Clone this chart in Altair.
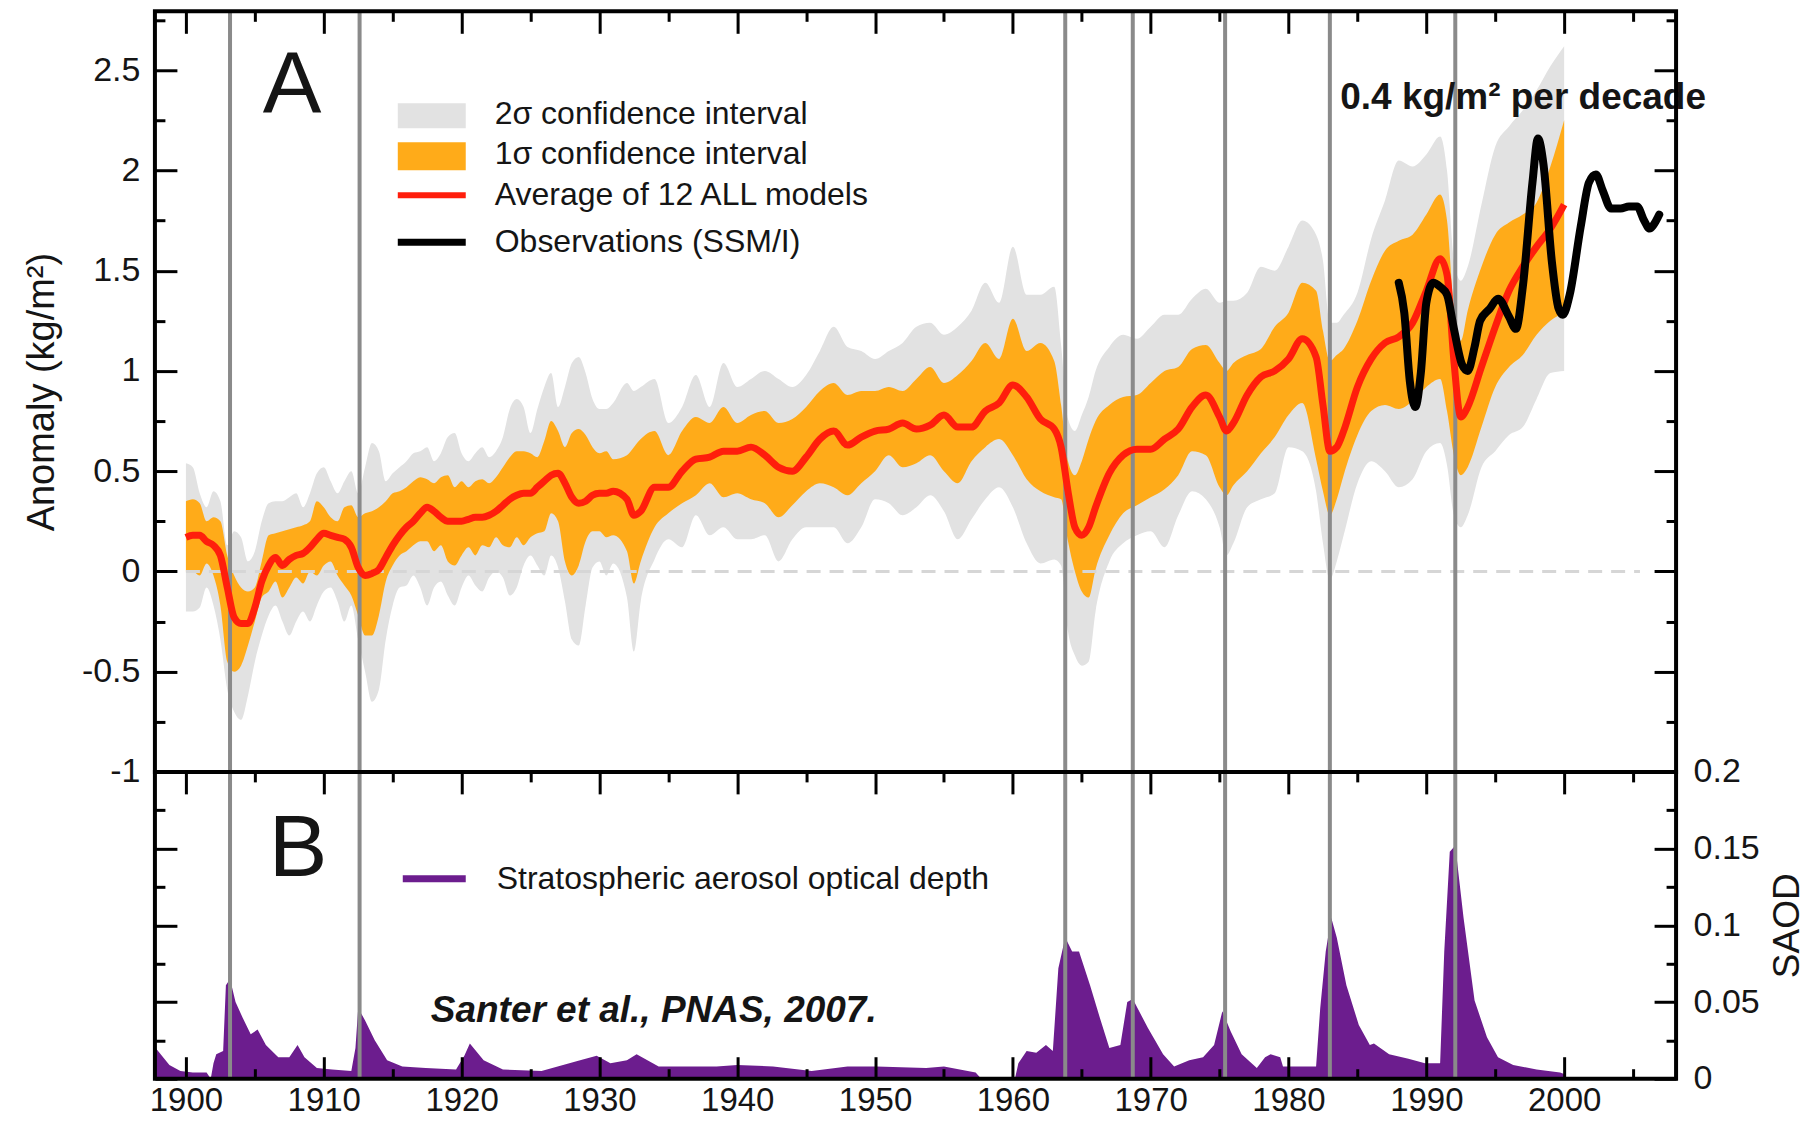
import altair as alt
import pandas as pd

# ---------------------------------------------------------------- data
years = [1900, 1900.5, 1901, 1901.5, 1902, 1902.5, 1903, 1903.5, 1904, 1904.5,
         1905, 1905.5, 1906, 1906.5, 1907, 1907.5, 1908, 1908.5, 1909, 1909.5,
         1910, 1910.5, 1911, 1911.5, 1912, 1912.5, 1913, 1913.5, 1914, 1914.5,
         1915, 1915.5, 1916, 1916.5, 1917, 1917.5, 1918, 1918.5, 1919, 1919.5,
         1920, 1920.5, 1921, 1921.5, 1922, 1922.5, 1923, 1923.5, 1924, 1924.5,
         1925, 1925.5, 1926, 1926.5, 1927, 1927.5, 1928, 1928.5, 1929, 1929.5,
         1930, 1930.5,
         1931, 1932, 1932.5, 1933, 1934, 1935, 1936, 1937, 1938, 1939,
         1940, 1941, 1942, 1943, 1944, 1945, 1946, 1947, 1948, 1949,
         1950, 1951, 1952, 1953, 1954, 1955, 1956, 1957, 1958, 1959,
         1960, 1961, 1962, 1963, 1963.5, 1964, 1964.5, 1965, 1965.5, 1966, 1967, 1968, 1969,
         1970, 1971, 1972, 1973, 1974, 1975, 1975.5, 1976, 1977, 1978, 1979,
         1980, 1981, 1982, 1982.5, 1983, 1983.5, 1984, 1985, 1986, 1987, 1988, 1989,
         1990, 1991, 1991.5, 1992, 1992.5, 1993, 1994, 1995, 1996, 1997, 1998, 1999, 2000]

model_mean = [0.17, 0.18, 0.18, 0.15, 0.13, 0.08, -0.08, -0.23, -0.26, -0.26,
              -0.18, -0.05, 0.03, 0.07, 0.03, 0.06, 0.08, 0.09, 0.12, 0.16,
              0.19, 0.18, 0.17, 0.16, 0.12, 0.02, -0.02, -0.01, 0.01, 0.07,
              0.13, 0.18, 0.22, 0.25, 0.29, 0.32, 0.30, 0.27, 0.25, 0.25,
              0.25, 0.26, 0.27, 0.27, 0.28, 0.30, 0.33, 0.36, 0.38, 0.39,
              0.39, 0.42, 0.45, 0.48, 0.49, 0.44, 0.37, 0.34, 0.35, 0.38,
              0.39, 0.39,
              0.40, 0.36, 0.28, 0.30, 0.42, 0.42, 0.50, 0.56, 0.57, 0.60,
              0.60, 0.62, 0.58, 0.52, 0.50, 0.57, 0.66, 0.70, 0.63, 0.67,
              0.70, 0.71, 0.74, 0.71, 0.73, 0.78, 0.72, 0.72, 0.80, 0.84,
              0.93, 0.87, 0.76, 0.71, 0.62, 0.40, 0.22, 0.18, 0.22, 0.32, 0.49, 0.58, 0.61,
              0.61, 0.66, 0.71, 0.82, 0.88, 0.77, 0.70, 0.74, 0.88, 0.97, 1.00,
              1.06, 1.16, 1.07, 0.83, 0.60, 0.62, 0.70, 0.92, 1.06, 1.14, 1.17, 1.24,
              1.40, 1.56, 1.48, 1.05, 0.77, 0.82, 1.02, 1.22, 1.40, 1.52, 1.62, 1.71, 1.83]

sigma1_hi = [0.35, 0.36, 0.34, 0.25, 0.27, 0.25, 0.08, -0.02, -0.08, -0.10,
             -0.08, 0.05, 0.18, 0.19, 0.20, 0.21, 0.22, 0.23, 0.25, 0.35,
             0.32, 0.27, 0.25, 0.32, 0.33, 0.27, 0.29, 0.30, 0.32, 0.35,
             0.39, 0.40, 0.42, 0.45, 0.47, 0.46, 0.44, 0.47, 0.48, 0.42,
             0.45, 0.42, 0.45, 0.46, 0.44, 0.47, 0.52, 0.57, 0.60, 0.60,
             0.59, 0.57, 0.65, 0.75, 0.70, 0.62, 0.69, 0.71, 0.68, 0.62,
             0.59, 0.60,
             0.56, 0.58, 0.62, 0.66, 0.70, 0.58, 0.70, 0.77, 0.74, 0.82,
             0.74, 0.78, 0.80, 0.74, 0.76, 0.82, 0.90, 0.94, 0.88, 0.90,
             0.90, 0.92, 0.90, 0.96, 1.02, 0.94, 0.98, 1.05, 1.14, 1.06,
             1.26, 1.10, 1.14, 1.05, 0.83, 0.55, 0.48, 0.55, 0.66, 0.75, 0.83, 0.87, 0.88,
             0.94, 1.00, 1.02, 1.11, 1.13, 1.04, 1.00, 1.04, 1.08, 1.11, 1.22,
             1.29, 1.44, 1.40, 1.20, 1.05, 1.08, 1.11, 1.25, 1.45, 1.60, 1.65, 1.68,
             1.78, 1.88, 1.75, 1.30, 1.15, 1.30, 1.52, 1.68, 1.74, 1.78, 1.84, 2.02, 2.25]

sigma1_lo = [0.00, 0.00, -0.02, 0.04, -0.02, -0.17, -0.45, -0.50, -0.47, -0.37,
             -0.25, -0.13, -0.10, -0.05, -0.13, -0.08, -0.03, -0.06, 0.00, -0.02,
             0.03, 0.05, -0.02, -0.07, -0.12, -0.22, -0.32, -0.32, -0.22, -0.05,
             0.03, 0.08, 0.10, 0.13, 0.15, 0.15, 0.10, 0.13, 0.05, 0.03,
             0.08, 0.12, 0.08, 0.13, 0.12, 0.17, 0.13, 0.12, 0.17, 0.13,
             0.17, 0.19, 0.20, 0.29, 0.25, 0.05, -0.02, 0.03, 0.15, 0.20,
             0.20, 0.17,
             0.18, 0.10, -0.06, 0.05, 0.22, 0.29, 0.34, 0.38, 0.44, 0.37,
             0.39, 0.36, 0.34, 0.27, 0.33, 0.40, 0.44, 0.42, 0.38, 0.44,
             0.50, 0.58, 0.52, 0.54, 0.58, 0.50, 0.44, 0.55, 0.62, 0.66,
             0.58, 0.46, 0.40, 0.37, 0.36, 0.15, 0.00, -0.10, -0.13, 0.01, 0.18, 0.29, 0.33,
             0.37, 0.41, 0.48, 0.60, 0.58, 0.42, 0.38, 0.43, 0.50, 0.59, 0.67,
             0.78, 0.84, 0.56, 0.40, 0.28, 0.36, 0.48, 0.68, 0.80, 0.83, 0.81, 0.85,
             0.92, 0.96, 0.80, 0.58, 0.48, 0.52, 0.72, 0.92, 1.02, 1.08, 1.18, 1.25, 1.29]

sigma2_hi = [0.54, 0.52, 0.39, 0.32, 0.40, 0.35, 0.13, 0.20, 0.17, 0.05,
             0.10, 0.25, 0.34, 0.35, 0.35, 0.37, 0.39, 0.32, 0.39, 0.49,
             0.52, 0.45, 0.39, 0.45, 0.50, 0.39, 0.52, 0.64, 0.60, 0.45,
             0.49, 0.52, 0.55, 0.59, 0.60, 0.62, 0.55, 0.59, 0.67, 0.69,
             0.59, 0.55, 0.59, 0.62, 0.57, 0.60, 0.67, 0.81, 0.86, 0.82,
             0.69, 0.81, 0.92, 0.99, 0.82, 0.92, 1.04, 1.07, 0.99, 0.86,
             0.81, 0.81,
             0.84, 0.94, 0.90, 0.92, 0.96, 0.74, 0.82, 0.98, 0.82, 1.04,
             0.92, 0.96, 1.00, 0.96, 0.92, 0.98, 1.10, 1.22, 1.12, 1.10,
             1.06, 1.10, 1.14, 1.22, 1.24, 1.18, 1.22, 1.30, 1.44, 1.34,
             1.62, 1.38, 1.38, 1.42, 1.13, 0.76, 0.70, 0.78, 0.87, 1.00, 1.12, 1.18, 1.16,
             1.22, 1.28, 1.28, 1.36, 1.41, 1.34, 1.35, 1.35, 1.39, 1.52, 1.50,
             1.62, 1.75, 1.68, 1.55, 1.24, 1.24, 1.28, 1.39, 1.66, 1.85, 2.05, 2.02,
             2.08, 2.17, 2.00, 1.55, 1.45, 1.52, 1.83, 2.12, 2.22, 2.30, 2.40, 2.52, 2.62]

sigma2_lo = [-0.20, -0.20, -0.18, -0.08, -0.17, -0.34, -0.59, -0.70, -0.74, -0.62,
             -0.45, -0.32, -0.22, -0.17, -0.25, -0.32, -0.25, -0.20, -0.25, -0.17,
             -0.10, -0.08, -0.15, -0.25, -0.17, -0.34, -0.50, -0.65, -0.59, -0.34,
             -0.17, -0.08, -0.07, -0.02, -0.08, -0.17, -0.08, -0.05, -0.12, -0.17,
             -0.08, -0.02, -0.07, -0.10, -0.03, 0.00, -0.03, -0.12, -0.08, 0.03,
             0.08, 0.03, -0.02, 0.08, 0.02, -0.15, -0.34, -0.37, -0.17, 0.02,
             0.05, -0.02,
             0.04, -0.13, -0.40, -0.15, 0.06, 0.16, 0.12, 0.28, 0.18, 0.22,
             0.16, 0.16, 0.18, 0.05, 0.16, 0.22, 0.22, 0.22, 0.14, 0.22,
             0.36, 0.34, 0.28, 0.32, 0.38, 0.30, 0.16, 0.26, 0.36, 0.42,
             0.32, 0.14, 0.04, 0.06, 0.03, -0.30, -0.42, -0.47, -0.45, -0.20, 0.05, 0.14, 0.18,
             0.20, 0.12, 0.28, 0.40, 0.36, 0.22, 0.08, 0.14, 0.32, 0.36, 0.39,
             0.62, 0.60, 0.40, 0.14, -0.04, 0.05, 0.18, 0.44, 0.55, 0.50, 0.42, 0.46,
             0.60, 0.64, 0.53, 0.28, 0.22, 0.28, 0.52, 0.60, 0.68, 0.72, 0.86, 0.99, 1.00]

obs_years = [1988.0, 1988.4, 1988.8, 1989.2, 1989.6, 1990.0, 1990.5, 1991.0, 1991.5, 1992.0,
             1992.6, 1993.0, 1993.5, 1993.9, 1994.6, 1995.2, 1996.0, 1996.5, 1997.0, 1997.7,
             1998.1, 1998.5, 1999.1, 1999.6, 1999.9, 2000.4, 2001.2, 2001.8, 2002.3, 2002.8,
             2003.4, 2004.1, 2004.7, 2005.3, 2005.8, 2006.2, 2006.5, 2006.9]
obs_values = [1.44, 1.29, 0.95, 0.82, 0.99, 1.34, 1.44, 1.42, 1.38, 1.21,
              1.03, 1.00, 1.12, 1.25, 1.31, 1.36, 1.27, 1.21, 1.42, 1.94,
              2.16, 2.03, 1.55, 1.31, 1.28, 1.38, 1.72, 1.94, 1.98, 1.90,
              1.81, 1.81, 1.82, 1.82, 1.75, 1.71, 1.73, 1.78]

saod_years = [1897.8, 1898.8, 1899.6, 1900.5, 1901.5, 1901.8, 1902.0, 1902.2, 1902.7, 1902.9,
              1903.2, 1903.6, 1904.1, 1904.7, 1905.2, 1905.8, 1906.7, 1907.5, 1908.1, 1908.6,
              1909.5, 1910.6, 1912.0, 1912.3, 1912.5, 1913.0, 1913.7, 1914.6, 1915.7, 1917.4,
              1919.6, 1920.2, 1920.6, 1921.6, 1923.0, 1925.8, 1928.6, 1929.8, 1930.8, 1932.0,
              1932.7, 1934.3, 1938.5, 1940.0, 1942.6, 1945.4, 1948.0, 1950.1, 1953.7, 1955.0,
              1957.3, 1957.9, 1960.1, 1960.4, 1961.0, 1961.7, 1962.4, 1962.9, 1963.3, 1963.8,
              1964.3, 1964.8, 1965.6, 1966.3, 1967.0, 1967.8, 1968.3, 1968.7, 1969.8, 1970.9,
              1971.7, 1972.8, 1973.8, 1974.6, 1975.2, 1975.8, 1976.6, 1977.7, 1978.3, 1978.7,
              1979.4, 1979.6, 1982.0, 1982.3, 1982.7, 1983.1, 1983.5, 1984.2, 1985.1, 1985.9,
              1986.2, 1987.3, 1988.7, 1989.9, 1991.0, 1991.3, 1991.7, 1992.1, 1992.7, 1993.5,
              1994.4, 1995.2, 1996.3, 1998.0, 1999.7, 2000.0]
saod_values = [0.020, 0.009, 0.005, 0.004, 0.004, 0.000, 0.010, 0.016, 0.018, 0.061,
               0.065, 0.050, 0.040, 0.029, 0.032, 0.022, 0.014, 0.014, 0.022, 0.014,
               0.007, 0.006, 0.005, 0.020, 0.046, 0.038, 0.025, 0.012, 0.008, 0.007,
               0.006, 0.015, 0.023, 0.012, 0.006, 0.005, 0.012, 0.015, 0.010, 0.012,
               0.016, 0.008, 0.008, 0.009, 0.008, 0.005, 0.008, 0.008, 0.007, 0.008,
               0.004, -0.002, -0.002, 0.010, 0.018, 0.017, 0.022, 0.018, 0.072, 0.092,
               0.083, 0.083, 0.061, 0.040, 0.020, 0.022, 0.050, 0.052, 0.033, 0.016,
               0.008, 0.012, 0.014, 0.022, 0.044, 0.031, 0.016, 0.007, 0.014, 0.016,
               0.014, 0.008, 0.008, 0.046, 0.083, 0.105, 0.092, 0.061, 0.035, 0.022,
               0.023, 0.016, 0.013, 0.010, 0.010, 0.083, 0.148, 0.152, 0.105, 0.051,
               0.027, 0.014, 0.009, 0.006, 0.004, 0.003]

eruption_years = [1903.2, 1912.6, 1963.8, 1968.7, 1975.4, 1983.0, 1992.1]
zero_line_span = [1900.0, 2005.5]

x_major = [1900, 1910, 1920, 1930, 1940, 1950, 1960, 1970, 1980, 1990, 2000]
x_minor = [1905, 1915, 1925, 1935, 1945, 1955, 1965, 1975, 1985, 1995, 2005]
ya_major = [-1, -0.5, 0, 0.5, 1, 1.5, 2, 2.5]
ya_minor = [-0.75, -0.25, 0.25, 0.75, 1.25, 1.75, 2.25, 2.75]
yb_major = [0, 0.05, 0.1, 0.15, 0.2]
yb_minor = [0.025, 0.075, 0.125, 0.175]

legend_a = ["2σ confidence interval", "1σ confidence interval",
            "Average of 12 ALL models", "Observations (SSM/I)"]
legend_b = "Stratospheric aerosol optical depth"
trend_note = "0.4 kg/m² per decade"
citation = "Santer et al., PNAS, 2007."

assert len(years) == len(model_mean) == len(sigma1_hi) == len(sigma1_lo) == len(sigma2_hi) == len(sigma2_lo)
assert len(obs_years) == len(obs_values)
assert len(saod_years) == len(saod_values)

# ---------------------------------------------------------------- style / layout
FONT = "Liberation Sans"
INK = "#151515"
GRAY2 = "#e2e2e2"
ORANGE = "#ffab19"
RED = "#ff1e0c"
PURPLE = "#6c1d8e"
VLINE = "#8a8a8a"
ZERO = "#d6d6d6"

W, HA, HB = 1522, 761, 307
X_DOMAIN = [1897.75, 2008.12]
A_DOMAIN = [-1.0, 2.794]
B_DOMAIN = [0.0, 0.2]
MAJOR, MINOR = 22, 10

df_model = pd.DataFrame({"year": years, "mean": model_mean, "s1hi": sigma1_hi,
                         "s1lo": sigma1_lo, "s2hi": sigma2_hi, "s2lo": sigma2_lo})
df_obs = pd.DataFrame({"year": obs_years, "obs": obs_values})
df_saod = pd.DataFrame({"year": saod_years, "saod": saod_values})
df_erupt = pd.DataFrame({"year": eruption_years})
df_zero = pd.DataFrame({"x": [zero_line_span[0]], "x2": [zero_line_span[1]], "y": [0.0]})
one = pd.DataFrame({"k": [0]})

xs = alt.Scale(domain=X_DOMAIN, nice=False, zero=False)
ya = alt.Scale(domain=A_DOMAIN, nice=False, zero=False)
yb = alt.Scale(domain=B_DOMAIN, nice=False, zero=False)
Xq = alt.X("year:Q", scale=xs, axis=None)


def tick_axis(orient, values, size, label_padding=None, title=None, label_size=34, **kw):
    props = dict(orient=orient, values=values, tickSize=size, offset=-size,
                 domain=False, grid=False, ticks=True, tickColor="black",
                 tickWidth=3, zindex=5)
    if label_padding is None:
        props["labels"] = False
    else:
        props.update(labels=True, labelFont=FONT, labelFontSize=label_size, labelColor=INK,
                     labelPadding=label_padding, labelExpr="'' + datum.value",
                     labelFlush=False, labelOverlap=False)
    if title:
        props.update(title=title, titleFont=FONT, titleFontWeight="normal", titleColor=INK)
    else:
        props["title"] = None
    props.update(kw)
    return alt.Axis(**props)


def carrier(df, field, yscale, xaxis, yaxis):
    return alt.Chart(df).mark_line(strokeOpacity=0).encode(
        x=alt.X("year:Q", scale=xs, axis=xaxis),
        y=alt.Y(f"{field}:Q", scale=yscale, axis=yaxis))


def box(x1, x2, y1, y2, color):
    return alt.Chart(one).mark_rect(color=color).encode(
        x=alt.value(x1), x2=alt.value(x2), y=alt.value(y1), y2=alt.value(y2))


def dash(x1, x2, y, color, w):
    return alt.Chart(one).mark_rule(color=color, strokeWidth=w).encode(
        x=alt.value(x1), x2=alt.value(x2), y=alt.value(y))


def label(x, y, text, size, baseline="middle", weight="normal", style="normal"):
    return alt.Chart(one).mark_text(text=text, font=FONT, fontSize=size, fontWeight=weight,
                                    fontStyle=style, color=INK, align="left",
                                    baseline=baseline).encode(x=alt.value(x), y=alt.value(y))


def frame(h):
    return alt.Chart(one).mark_rect(filled=False, stroke="black", strokeWidth=4).encode(
        x=alt.value(0), x2=alt.value(W), y=alt.value(0), y2=alt.value(h))


# ---------------------------------------------------------------- panel A
band2 = alt.Chart(df_model).mark_area(color=GRAY2, interpolate="monotone").encode(
    x=Xq, y=alt.Y("s2hi:Q", scale=ya, axis=None), y2="s2lo:Q")
band1 = alt.Chart(df_model).mark_area(color=ORANGE, interpolate="monotone").encode(
    x=Xq, y=alt.Y("s1hi:Q", scale=ya, axis=None), y2="s1lo:Q")
zero = alt.Chart(df_zero).mark_rule(color=ZERO, strokeWidth=3, strokeDash=[14, 9]).encode(
    x=alt.X("x:Q", scale=xs, axis=None), x2="x2:Q", y=alt.Y("y:Q", scale=ya, axis=None))
vlines_a = alt.Chart(df_erupt).mark_rule(color=VLINE, strokeWidth=4).encode(x=Xq)
mean_line = alt.Chart(df_model).mark_line(color=RED, strokeWidth=7, interpolate="monotone").encode(
    x=Xq, y=alt.Y("mean:Q", scale=ya, axis=None))
obs_line = alt.Chart(df_obs).mark_line(color="black", strokeWidth=8, interpolate="monotone",
                                       strokeJoin="round", strokeCap="round").encode(
    x=Xq, y=alt.Y("obs:Q", scale=ya, axis=None))

panel_a = alt.layer(
    band2, band1, zero, vlines_a, mean_line, obs_line,
    box(243, 311, 92, 117, GRAY2), box(243, 311, 131, 159, ORANGE),
    dash(243, 311, 184, RED, 6), dash(243, 311, 231, "black", 7),
    label(340, 103, legend_a[0], 32), label(340, 143, legend_a[1], 32),
    label(340, 184, legend_a[2], 32), label(340, 231, legend_a[3], 32),
    label(108, 102, "A", 88, baseline="alphabetic"),
    label(1186, 98, trend_note, 37, baseline="alphabetic", weight="bold"),
    frame(HA),
    carrier(df_model, "mean", ya, tick_axis("top", x_major, MAJOR),
            tick_axis("left", ya_major, MAJOR, label_padding=15,
                      title="Anomaly (kg/m²)", titleFontSize=38, titlePadding=20)),
    carrier(df_model, "mean", ya, tick_axis("top", x_minor, MINOR),
            tick_axis("left", ya_minor, MINOR)),
    carrier(df_model, "mean", ya, None, tick_axis("right", ya_major, MAJOR)),
    carrier(df_model, "mean", ya, None, tick_axis("right", ya_minor, MINOR)),
).properties(width=W, height=HA).resolve_axis(x="independent", y="independent")

# ---------------------------------------------------------------- panel B
saod_area = alt.Chart(df_saod).mark_area(color=PURPLE, interpolate="linear", clip=True).encode(
    x=Xq, y=alt.Y("saod:Q", scale=yb, axis=None))
vlines_b = alt.Chart(df_erupt).mark_rule(color=VLINE, strokeWidth=4).encode(x=Xq)

panel_b = alt.layer(
    saod_area, vlines_b,
    dash(248, 311, 107, PURPLE, 7),
    label(342, 107, legend_b, 32),
    label(114, 104, "B", 88, baseline="alphabetic"),
    label(276, 250, citation, 37, baseline="alphabetic", weight="bold", style="italic"),
    frame(HB),
    carrier(df_saod, "saod", yb, tick_axis("top", x_major, MAJOR),
            tick_axis("left", yb_major, MAJOR)),
    carrier(df_saod, "saod", yb, tick_axis("top", x_minor, MINOR),
            tick_axis("left", yb_minor, MINOR)),
    carrier(df_saod, "saod", yb,
            tick_axis("bottom", x_major, MAJOR, label_padding=6, label_size=33),
            tick_axis("right", yb_major, MAJOR, label_padding=17, title="SAOD",
                      titleFontSize=37, titleAngle=270, titleBaseline="top", titlePadding=10)),
    carrier(df_saod, "saod", yb, tick_axis("bottom", x_minor, MINOR),
            tick_axis("right", yb_minor, MINOR)),
).properties(width=W, height=HB).resolve_axis(x="independent", y="independent")

chart = alt.vconcat(panel_a, panel_b, spacing=0, bounds="flush").properties(
    padding={"left": 14, "top": 0, "right": 2, "bottom": 0}, background="white"
).configure_view(stroke="transparent")

chart.save("out.html", embed_options={"renderer": "svg", "actions": False})
